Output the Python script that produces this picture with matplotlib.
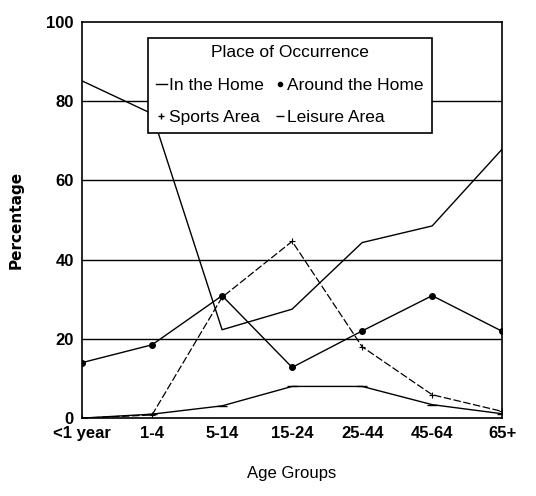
import matplotlib
matplotlib.use("Agg")
import matplotlib.pyplot as plt
from matplotlib.lines import Line2D

plt.rcParams['font.family'] = ['Liberation Sans Narrow', 'Liberation Sans', 'DejaVu Sans']

categories = ["<1 year", "1-4", "5-14", "15-24", "25-44", "45-64", "65+"]
in_home = [85.1, 76.8, 22.3, 27.5, 44.3, 48.5, 67.9]
around_home = [14.0, 18.5, 30.9, 12.8, 22.0, 30.9, 21.9]
sports_area = [0.0, 0.8, 30.5, 44.6, 18.0, 5.9, 1.7]
leisure_area = [0.0, 1.0, 3.1, 8.0, 8.0, 3.4, 1.1]
yticks = [0, 20, 40, 60, 80, 100]

fig = plt.figure(figsize=(5.36, 4.96), dpi=100)
ax = fig.add_axes([0.153, 0.157, 0.784, 0.799])

x = list(range(len(categories)))
ax.plot(x, in_home, color='black', lw=1.0, label='In the Home')
ax.plot(x, around_home, color='black', lw=1.0, marker='o', ms=4, label='Around the Home')
ax.plot(x, sports_area, color='black', lw=0.9, ls=(0, (6, 2)), marker='+', ms=5, mew=0.8, label='Sports Area')
ax.plot(x, leisure_area, color='black', lw=1.0, marker='_', ms=7, mew=1.0, label='Leisure Area')

ax.set_xlim(0, len(categories) - 1)
ax.set_ylim(0, 100)
ax.set_xticks(x)
ax.set_xticklabels(categories)
ax.set_yticks(yticks)
ax.tick_params(length=0, labelsize=12, pad=6)
for t in ax.get_xticklabels() + ax.get_yticklabels():
    t.set_fontweight('bold')
for yv in yticks[1:-1]:
    ax.axhline(yv, color='black', lw=1.0, zorder=0)
for s in ax.spines.values():
    s.set_linewidth(1.2)

ax.set_ylabel('Percentage', fontsize=11, family=['DejaVu Sans'], fontweight='bold', labelpad=16)
ax.set_xlabel('Age Groups', fontsize=12, labelpad=18)

handles = [
    Line2D([], [], color='black', lw=1.0),
    Line2D([], [], color='black', lw=0, marker='+', ms=5),
    Line2D([], [], color='black', lw=0, marker='o', ms=3),
    Line2D([], [], color='black', lw=0, marker='_', ms=6),
]
labels = ['In the Home', 'Sports Area', 'Around the Home', 'Leisure Area']
leg = ax.legend(handles, labels, title='Place of Occurrence', ncol=2,
                loc='upper center', bbox_to_anchor=(0.495, 0.982),
                fontsize=12.5, title_fontsize=12.5, frameon=True, fancybox=False,
                edgecolor='black', handlelength=0.6, handletextpad=0.15,
                columnspacing=0.6, borderpad=0.45, labelspacing=1.0)
leg.get_frame().set_linewidth(1.2)
leg.get_frame().set_alpha(1)

fig.savefig('out.png', dpi=100)
